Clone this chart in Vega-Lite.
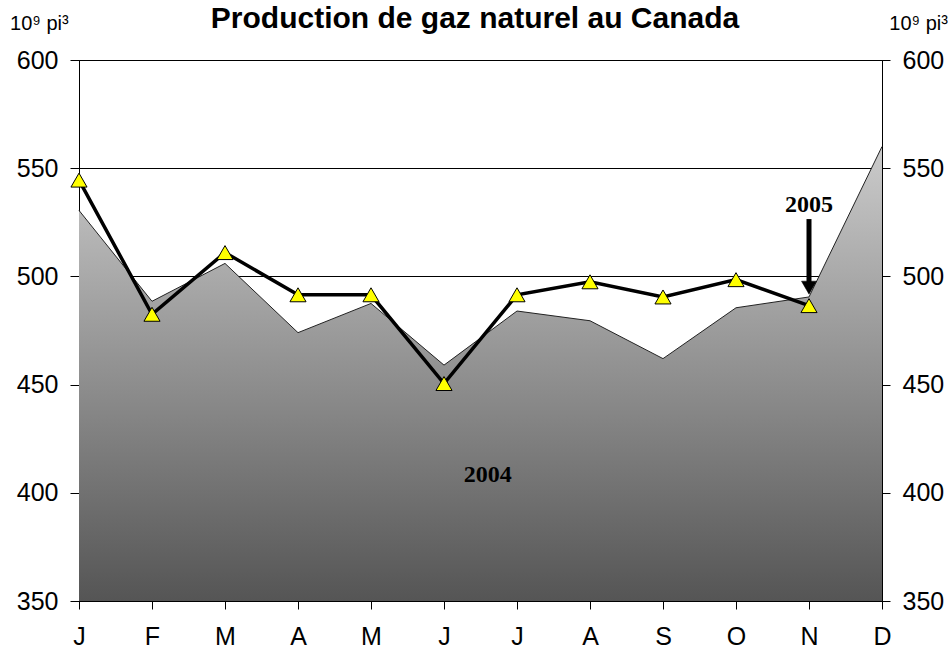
{
  "$schema": "https://vega.github.io/schema/vega-lite/v6.json",
  "width": 803,
  "height": 541,
  "autosize": {"type": "none"},
  "padding": {"left": 79, "top": 60, "right": 66, "bottom": 49},
  "background": "white",
  "config": {
    "view": {"stroke": "black", "strokeWidth": 1},
    "axis": {
      "labelFont": "Liberation Sans",
      "labelFontSize": 25,
      "labelColor": "black",
      "tickColor": "black",
      "domainColor": "black",
      "gridColor": "black",
      "gridOpacity": 1,
      "tickWidth": 1,
      "domainWidth": 1
    }
  },
  "encoding": {
    "x": {
      "field": "m",
      "type": "quantitative",
      "scale": {"domain": [1, 12], "nice": false, "zero": false},
      "axis": {
        "title": null,
        "values": [1, 2, 3, 4, 5, 6, 7, 8, 9, 10, 11, 12],
        "labelExpr": "['J','F','M','A','M','J','J','A','S','O','N','D'][datum.value-1]",
        "grid": false,
        "tickSize": 8,
        "labelPadding": 15,
        "labelFlush": false,
        "labelOverlap": false
      }
    }
  },
  "layer": [
    {
      "data": {"values": [
        {"m": 1, "v": 530.5},
        {"m": 2, "v": 488.5},
        {"m": 3, "v": 506},
        {"m": 4, "v": 474},
        {"m": 5, "v": 487.5},
        {"m": 6, "v": 459},
        {"m": 7, "v": 484},
        {"m": 8, "v": 479.5},
        {"m": 9, "v": 462},
        {"m": 10, "v": 485.5},
        {"m": 11, "v": 490.5},
        {"m": 12, "v": 560}
      ]},
      "mark": {
        "type": "area",
        "opacity": 1,
        "fillOpacity": 1,
        "color": {
          "gradient": "linear",
          "x1": 0, "y1": 0, "x2": 0, "y2": 1,
          "stops": [
            {"offset": 0, "color": "#cbcbcb"},
            {"offset": 1, "color": "#555555"}
          ]
        },
        "line": {"color": "#222222", "strokeWidth": 1}
      },
      "encoding": {
        "y": {
          "field": "v",
          "type": "quantitative",
          "scale": {"domain": [350, 600], "nice": false, "zero": false},
          "axis": {
            "orient": "left",
            "title": null,
            "values": [350, 400, 450, 500, 550, 600],
            "grid": true,
            "tickSize": 9,
            "labelPadding": 12
          }
        },
        "y2": {"datum": 350}
      }
    },
    {
      "data": {"values": [
        {"m": 1, "v": 544.5},
        {"m": 2, "v": 482.5},
        {"m": 3, "v": 511},
        {"m": 4, "v": 491.5},
        {"m": 5, "v": 491.5},
        {"m": 6, "v": 450.5},
        {"m": 7, "v": 491.5},
        {"m": 8, "v": 497.5},
        {"m": 9, "v": 490.5},
        {"m": 10, "v": 498.5},
        {"m": 11, "v": 486.5}
      ]},
      "mark": {
        "type": "line",
        "color": "black",
        "strokeWidth": 3.5,
        "point": {
          "shape": "triangle-up",
          "size": 260,
          "filled": true,
          "fill": "#ffff00",
          "stroke": "black",
          "strokeWidth": 1,
          "opacity": 1
        }
      },
      "encoding": {
        "y": {
          "field": "v",
          "type": "quantitative",
          "scale": {"domain": [350, 600], "nice": false, "zero": false},
          "axis": {
            "orient": "right",
            "title": null,
            "values": [350, 400, 450, 500, 550, 600],
            "grid": false,
            "tickSize": 8,
            "labelPadding": 12
          }
        }
      }
    },
    {
      "data": {"values": [{"m": 11, "v": 526.5, "v2": 496}]},
      "mark": {"type": "rule", "color": "black", "strokeWidth": 5},
      "encoding": {
        "y": {"field": "v", "type": "quantitative", "axis": null},
        "y2": {"field": "v2"}
      }
    },
    {
      "data": {"values": [{"m": 11, "v": 494.8}]},
      "mark": {"type": "point", "shape": "triangle-down", "size": 225, "filled": true, "fill": "black", "stroke": "black", "strokeWidth": 0.5, "opacity": 1},
      "encoding": {
        "y": {"field": "v", "type": "quantitative", "axis": null}
      }
    },
    {
      "data": {"values": [
        {"m": 11, "v": 533, "t": "2005"},
        {"m": 6.6, "v": 408.2, "t": "2004"}
      ]},
      "mark": {"type": "text", "font": "Liberation Serif", "fontWeight": "bold", "fontSize": 24, "color": "black", "align": "center", "baseline": "middle"},
      "encoding": {
        "y": {"field": "v", "type": "quantitative", "axis": null},
        "text": {"field": "t"}
      }
    },
    {
      "data": {"values": [{"m": 6.425, "v": 614.6, "t": "Production de gaz naturel au Canada"}]},
      "mark": {"type": "text", "font": "Liberation Sans", "fontWeight": "bold", "fontSize": 30, "color": "black", "align": "center", "baseline": "alphabetic"},
      "encoding": {
        "y": {"field": "v", "type": "quantitative", "axis": null},
        "text": {"field": "t"}
      }
    },
    {
      "data": {"values": [
        {"m": 0.055, "v": 613.9, "t": "10⁹ pi³"},
        {"m": 12.1, "v": 613.9, "t": "10⁹ pi³"}
      ]},
      "mark": {"type": "text", "font": "Liberation Sans", "fontSize": 20, "color": "black", "align": "left", "baseline": "alphabetic"},
      "encoding": {
        "y": {"field": "v", "type": "quantitative", "axis": null},
        "text": {"field": "t"}
      }
    }
  ],
  "resolve": {"axis": {"y": "independent"}}
}
